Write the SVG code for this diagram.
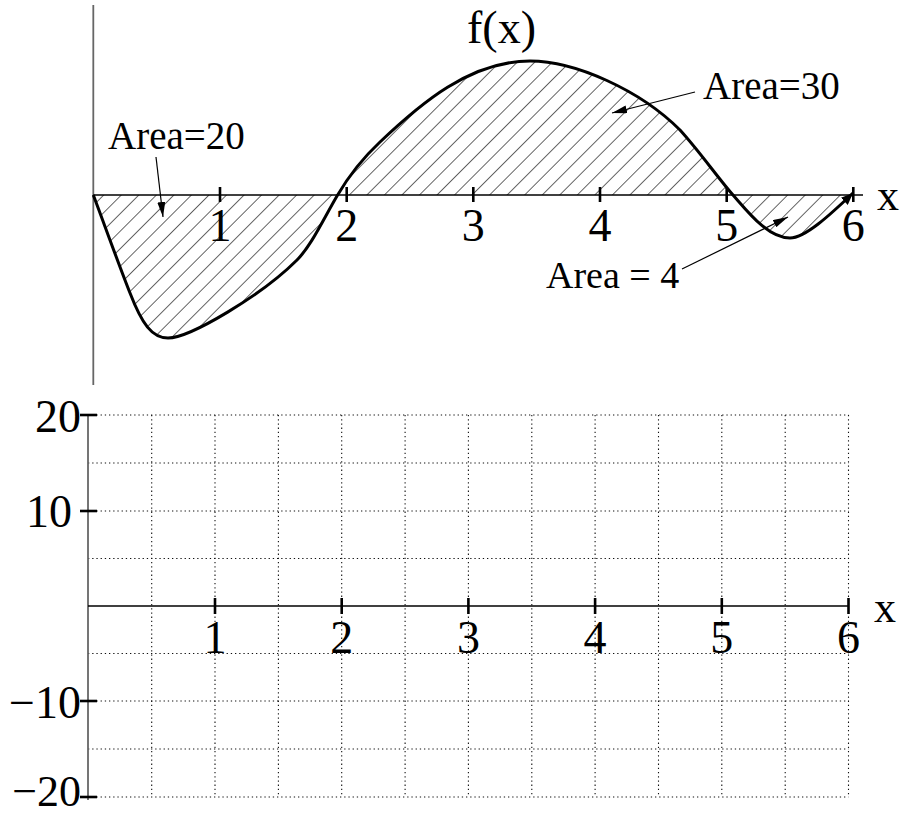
<svg xmlns="http://www.w3.org/2000/svg" width="900" height="817" viewBox="0 0 900 817">
<style>
text{font-family:"Liberation Serif","Times New Roman",serif;fill:#000}
.num{font-size:46px;text-anchor:middle}
.lbl{font-size:39px}
.axis{stroke:#000;stroke-width:1.3;fill:none}
.yaxis{stroke:#666;stroke-width:1.8;fill:none}
.tick{stroke:#000;stroke-width:2.6}
.grid{stroke:#111;stroke-width:1.1;stroke-dasharray:1.3 2.9;fill:none}
.ptr{stroke:#000;stroke-width:1.2;fill:none}
</style>
<defs>
<pattern id="hatch" patternUnits="userSpaceOnUse" width="12.4" height="10" patternTransform="rotate(45)">
<line x1="0" y1="-1" x2="0" y2="11" stroke="#000" stroke-width="1.2"/>
</pattern>
<marker id="ah" markerUnits="userSpaceOnUse" markerWidth="16" markerHeight="8" refX="15" refY="4" orient="auto">
<path d="M0,0 L15,4 L0,8 Z" fill="#000"/>
</marker>
<marker id="ah2" markerUnits="userSpaceOnUse" markerWidth="14" markerHeight="10" refX="12" refY="5" orient="auto">
<path d="M0,0 L12,5 L0,10 Z" fill="#000"/>
</marker>
</defs>

<g id="top-plot">
<path id="area-fill" d="M93.3,195 C102,218 120,268 130,293 C142,324 152,338 168,338 C190,338 262,295 297,260 C311,246 323,220 337,196 C351,172 365,156 380,142 C420,104 470,61 530,61 C575,61 640,90 680,130 C700,152 718,178 733,195 C748,212 768,238 790,238 C805,238 830,215 853,193 L853,195 Z" fill="url(#hatch)" stroke="none"/>
<line class="yaxis" x1="93.3" y1="5" x2="93.3" y2="385"/>
<line class="axis" x1="93.3" y1="195" x2="863" y2="195"/>
<g class="ticks">
<line class="tick" x1="220" y1="187" x2="220" y2="202"/>
<line class="tick" x1="346.7" y1="187" x2="346.7" y2="202"/>
<line class="tick" x1="473.3" y1="187" x2="473.3" y2="202"/>
<line class="tick" x1="600" y1="187" x2="600" y2="202"/>
<line class="tick" x1="726.7" y1="187" x2="726.7" y2="202"/>
<line class="tick" x1="853.3" y1="187" x2="853.3" y2="202"/>
</g>
<path id="curve" d="M93.3,195 C102,218 120,268 130,293 C142,324 152,338 168,338 C190,338 262,295 297,260 C311,246 323,220 337,196 C351,172 365,156 380,142 C420,104 470,61 530,61 C575,61 640,90 680,130 C700,152 718,178 733,195 C748,212 768,238 790,238 C805,238 830,215 853,193" fill="none" stroke="#000" stroke-width="3" marker-end="url(#ah2)"/>
<text class="num" x="220" y="241">1</text>
<text class="num" x="346.7" y="241">2</text>
<text class="num" x="473.3" y="241">3</text>
<text class="num" x="600" y="241">4</text>
<text class="num" x="726.7" y="241">5</text>
<text class="num" x="853.3" y="241">6</text>
<text x="877" y="210" style="font-size:44px">x</text>
<text x="467" y="43" style="font-size:46px">f(x)</text>
</g>

<g id="label-area20"><text class="lbl" x="108" y="149">Area=20</text></g>
<g id="label-area30"><text class="lbl" x="703" y="99">Area=30</text></g>
<g id="label-area4"><text class="lbl" x="546" y="288" style="font-size:38px">Area = 4</text></g>

<g id="connectors">
<line class="ptr" x1="156" y1="157" x2="163" y2="217" marker-end="url(#ah)"/>
<line class="ptr" x1="695" y1="92" x2="612" y2="113" marker-end="url(#ah)"/>
<line class="ptr" x1="682" y1="269" x2="788" y2="217" marker-end="url(#ah)"/>
</g>

<g id="bottom-plot">
<g id="grid">
<line class="grid" x1="151.7" y1="415" x2="151.7" y2="797"/>
<line class="grid" x1="215" y1="415" x2="215" y2="797"/>
<line class="grid" x1="278.4" y1="415" x2="278.4" y2="797"/>
<line class="grid" x1="341.7" y1="415" x2="341.7" y2="797"/>
<line class="grid" x1="405.1" y1="415" x2="405.1" y2="797"/>
<line class="grid" x1="468.4" y1="415" x2="468.4" y2="797"/>
<line class="grid" x1="531.8" y1="415" x2="531.8" y2="797"/>
<line class="grid" x1="595.1" y1="415" x2="595.1" y2="797"/>
<line class="grid" x1="658.5" y1="415" x2="658.5" y2="797"/>
<line class="grid" x1="721.8" y1="415" x2="721.8" y2="797"/>
<line class="grid" x1="785.2" y1="415" x2="785.2" y2="797"/>
<line class="grid" x1="848.5" y1="415" x2="848.5" y2="797"/>
<line class="grid" x1="88" y1="415" x2="848.5" y2="415"/>
<line class="grid" x1="88" y1="463" x2="848.5" y2="463"/>
<line class="grid" x1="88" y1="511" x2="848.5" y2="511"/>
<line class="grid" x1="88" y1="558.5" x2="848.5" y2="558.5"/>
<line class="grid" x1="88" y1="653.5" x2="848.5" y2="653.5"/>
<line class="grid" x1="88" y1="701" x2="848.5" y2="701"/>
<line class="grid" x1="88" y1="749" x2="848.5" y2="749"/>
<line class="grid" x1="88" y1="797" x2="848.5" y2="797"/>
</g>
<line class="yaxis" x1="88" y1="415" x2="88" y2="800"/>
<line class="axis" x1="88" y1="606" x2="849" y2="606"/>
<g class="ticks">
<line class="tick" x1="215" y1="598" x2="215" y2="614"/>
<line class="tick" x1="341.7" y1="598" x2="341.7" y2="614"/>
<line class="tick" x1="468.4" y1="598" x2="468.4" y2="614"/>
<line class="tick" x1="595.1" y1="598" x2="595.1" y2="614"/>
<line class="tick" x1="721.8" y1="598" x2="721.8" y2="614"/>
<line class="tick" x1="848.5" y1="598" x2="848.5" y2="614"/>
<line class="tick" x1="80" y1="415" x2="97" y2="415"/>
<line class="tick" x1="80" y1="511" x2="97" y2="511"/>
<line class="tick" x1="80" y1="701" x2="97" y2="701"/>
<line class="tick" x1="80" y1="797" x2="97" y2="797"/>
</g>
<text class="num" x="215" y="653">1</text>
<text class="num" x="341.7" y="653">2</text>
<text class="num" x="468.4" y="653">3</text>
<text class="num" x="595.1" y="653">4</text>
<text class="num" x="721.8" y="653">5</text>
<text class="num" x="848.5" y="653">6</text>
<text x="874" y="622" style="font-size:44px">x</text>
<text x="81" y="432" style="font-size:46px;text-anchor:end">20</text>
<text x="72" y="527" style="font-size:46px;text-anchor:end">10</text>
<text x="81" y="718" style="font-size:46px;text-anchor:end">−10</text>
<text x="81" y="806" style="font-size:44px;text-anchor:end">−20</text>
</g>
</svg>
